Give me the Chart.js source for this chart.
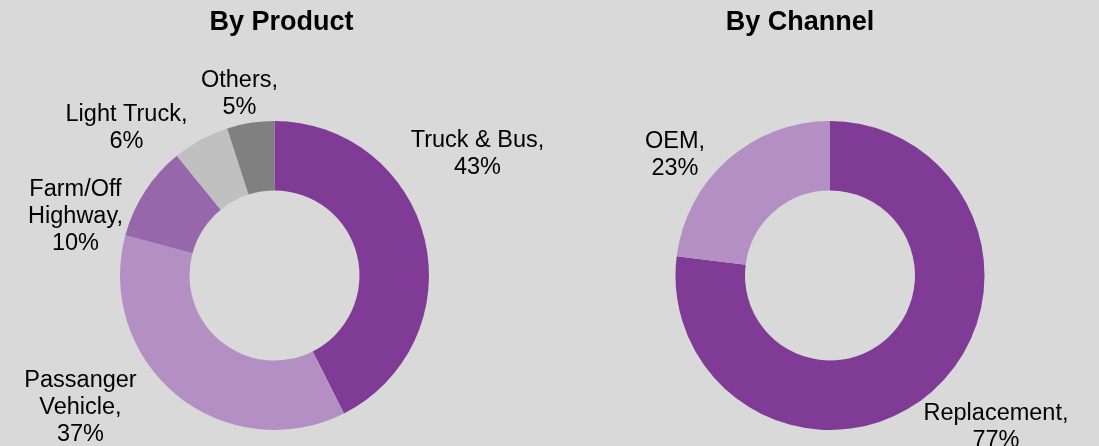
<!DOCTYPE html>
<html>
<head>
<meta charset="utf-8">
<script src="https://cdn.jsdelivr.net/npm/chart.js@4.4.1/dist/chart.umd.min.js"></script>
<style>
    html, body { margin: 0; padding: 0; background: #d9d9d9; }
    #wrap { position: relative; width: 1099px; height: 446px; overflow: hidden; }
    .box { position: absolute; top: 0; height: 446px; }
    #box-product { left: 0; width: 549px; }
    #box-channel { left: 549px; width: 550px; }
</style>
</head>
<body>
<div id="wrap">
    <div class="box" id="box-product"><canvas id="productChart"></canvas></div>
    <div class="box" id="box-channel"><canvas id="channelChart"></canvas></div>
</div>
<script>
// Datos
const productLabels = [['Truck & Bus,'], ['Passanger', 'Vehicle,'], ['Farm/Off', 'Highway,'], ['Light Truck,'], ['Others,']];
const productValues = [43, 37, 10, 6, 5];
const productColors = ['#7f3b95', '#b48fc4', '#9767ab', '#c0c0c0', '#808080'];

const channelLabels = [['Replacement,'], ['OEM,']];
const channelValues = [77, 23];
const channelColors = ['#7f3b95', '#b48fc4'];

// Posición de las etiquetas (relativa al centro de la dona, primera línea)
const productLabelPos = [[203, -129], [-194, 111], [-199, -80], [-148, -155], [-35, -189]];
const channelLabelPos = [[166, 144], [-155, -128]];

const FONT = '"Liberation Sans", Arial, sans-serif';

const labelPlugin = {
    id: 'etiquetas',
    afterDraw(chart, args, opts) {
        const ctx = chart.ctx;
        const meta = chart.getDatasetMeta(0);
        const cx = meta.data[0].x;
        const cy = meta.data[0].y;
        ctx.save();
        ctx.fillStyle = '#000';
        ctx.textAlign = 'center';
        ctx.textBaseline = 'alphabetic';

        // título
        ctx.font = 'bold 27px ' + FONT;
        ctx.fillText(opts.title, cx + opts.titleDx, 30);

        ctx.font = '23.5px ' + FONT;
        const vals = chart.data.datasets[0].data;
        opts.names.forEach((lines, i) => {
            const all = lines.concat([vals[i] + '%']);
            const [dx, dy] = opts.pos[i];
            all.forEach((txt, j) => {
                ctx.fillText(txt, cx + dx, cy + dy + j * 27);
            });
        });
        ctx.restore();
    }
};

function makeDonut(id, names, values, colors, pos, title, titleDx, padLeft) {
    return new Chart(document.getElementById(id), {
        type: 'doughnut',
        data: {
            labels: names.map(n => n.join(' ')),
            datasets: [{
                data: values,
                backgroundColor: colors,
                borderWidth: 0,
                hoverOffset: 0
            }]
        },
        options: {
            responsive: true,
            maintainAspectRatio: false,
            animation: false,
            cutout: '55%',
            layout: { padding: { top: 121, bottom: 16, left: padLeft, right: 0 } },
            plugins: {
                legend: { display: false },
                tooltip: { enabled: false },
                etiquetas: { names: names, pos: pos, title: title, titleDx: titleDx }
            }
        },
        plugins: [labelPlugin]
    });
}

makeDonut('productChart', productLabels, productValues, productColors, productLabelPos, 'By Product', 7, 0);
makeDonut('channelChart', channelLabels, channelValues, channelColors, channelLabelPos, 'By Channel', -30, 12);
</script>
</body>
</html>
